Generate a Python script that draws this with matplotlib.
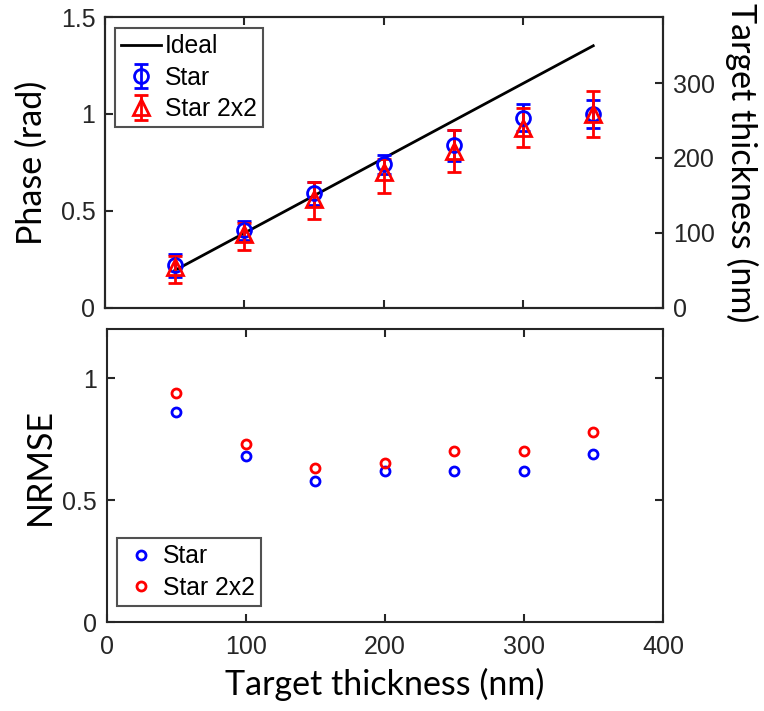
import matplotlib
matplotlib.use("Agg")
import matplotlib.pyplot as plt

# data
thickness = [50, 100, 150, 200, 250, 300, 350]
star_phase = [0.22, 0.40, 0.59, 0.74, 0.84, 0.98, 1.00]
star_err = [0.06, 0.05, 0.06, 0.05, 0.08, 0.07, 0.07]
star2_phase = [0.21, 0.38, 0.56, 0.70, 0.81, 0.93, 1.00]
star2_err_lo = [0.08, 0.08, 0.10, 0.11, 0.11, 0.10, 0.12]
star2_err_hi = [0.06, 0.06, 0.09, 0.07, 0.11, 0.10, 0.12]
ideal_x = [50, 350]
ideal_phase = [0.193, 1.352]
star_nrmse = [0.86, 0.68, 0.58, 0.62, 0.62, 0.62, 0.69]
star2_nrmse = [0.94, 0.73, 0.63, 0.65, 0.70, 0.70, 0.78]
right_ticks = [0, 100, 200, 300]
right_max = 388

label_font = "Lato"
spine_col = "#262626"

plt.rcParams["font.family"] = "Liberation Sans"
plt.rcParams["axes.linewidth"] = 1.5
plt.rcParams["axes.edgecolor"] = spine_col

fig = plt.figure(figsize=(7.64, 7.11), dpi=100)
ax1 = fig.add_axes([0.1374, 0.567, 0.7304, 0.409])
ax2 = fig.add_axes([0.140, 0.125, 0.7277, 0.412])


def style_ticks(ax):
    ax.tick_params(direction="in", length=6, width=1.5, labelsize=18,
                   colors=spine_col, labelcolor="#262626")
    ax.tick_params(axis="y", pad=7)
    ax.tick_params(axis="x", pad=9)


# top panel
ax1.plot(ideal_x, ideal_phase, color="black", lw=2, label="Ideal")
ax1.errorbar(thickness, star_phase, yerr=star_err, fmt="o", color="blue",
             mfc="none", ms=10, mew=2, elinewidth=2, capsize=4.7, capthick=2,
             label="Star")
ax1.errorbar(thickness, star2_phase, yerr=[star2_err_lo, star2_err_hi], fmt="^",
             color="red", mfc="none", ms=11, mew=2, elinewidth=2, capsize=4.7,
             capthick=2, label="Star 2x2")
ax1.set_xlim(0, 400)
ax1.set_ylim(0, 1.5)
ax1.set_xticks([0, 100, 200, 300, 400])
ax1.set_xticklabels([])
ax1.set_yticks([0, 0.5, 1, 1.5])
ax1.set_yticklabels(["0", "0.5", "1", "1.5"])
style_ticks(ax1)
ax1.tick_params(top=True)
ax1.set_ylabel("Phase (rad)", family=label_font, fontsize=24.5, labelpad=9)
leg = ax1.legend(loc="upper left", bbox_to_anchor=(0.018, 0.962),
                 borderaxespad=0, fontsize=17.8, frameon=True, fancybox=False,
                 edgecolor=spine_col, handlelength=1.62, handletextpad=0.16,
                 borderpad=0.25, labelspacing=0.3)
leg.get_frame().set_linewidth(1.5)

axr = ax1.twinx()
axr.set_ylim(0, right_max)
axr.set_yticks(right_ticks)
style_ticks(axr)
axr.set_ylabel("Target thickness (nm)", family=label_font, fontsize=24.5,
               rotation=270, labelpad=31)

# bottom panel
ax2.plot(thickness, star_nrmse, "o", color="blue", mfc="none", ms=6.5, mew=2,
         label="Star")
ax2.plot(thickness, star2_nrmse, "o", color="red", mfc="none", ms=6.5, mew=2,
         label="Star 2x2")
ax2.set_xlim(0, 400)
ax2.set_ylim(0, 1.2)
ax2.set_xticks([0, 100, 200, 300, 400])
ax2.set_yticks([0, 0.5, 1])
ax2.set_yticklabels(["0", "0.5", "1"])
style_ticks(ax2)
ax2.tick_params(top=True, right=True)
ax2.set_ylabel("NRMSE", family=label_font, fontsize=24.5, labelpad=5)
ax2.yaxis.label.set_y(0.53)
ax2.set_xlabel("Target thickness (nm)", family=label_font, fontsize=24.5,
               labelpad=7)
leg2 = ax2.legend(loc="lower left", bbox_to_anchor=(0.018, 0.055),
                  borderaxespad=0, fontsize=17.8, frameon=True, fancybox=False,
                  edgecolor=spine_col, handlelength=1.46, handletextpad=0.16,
                  borderpad=0.25, labelspacing=0.3)
leg2.get_frame().set_linewidth(1.5)

fig.savefig("out.png", dpi=100)
